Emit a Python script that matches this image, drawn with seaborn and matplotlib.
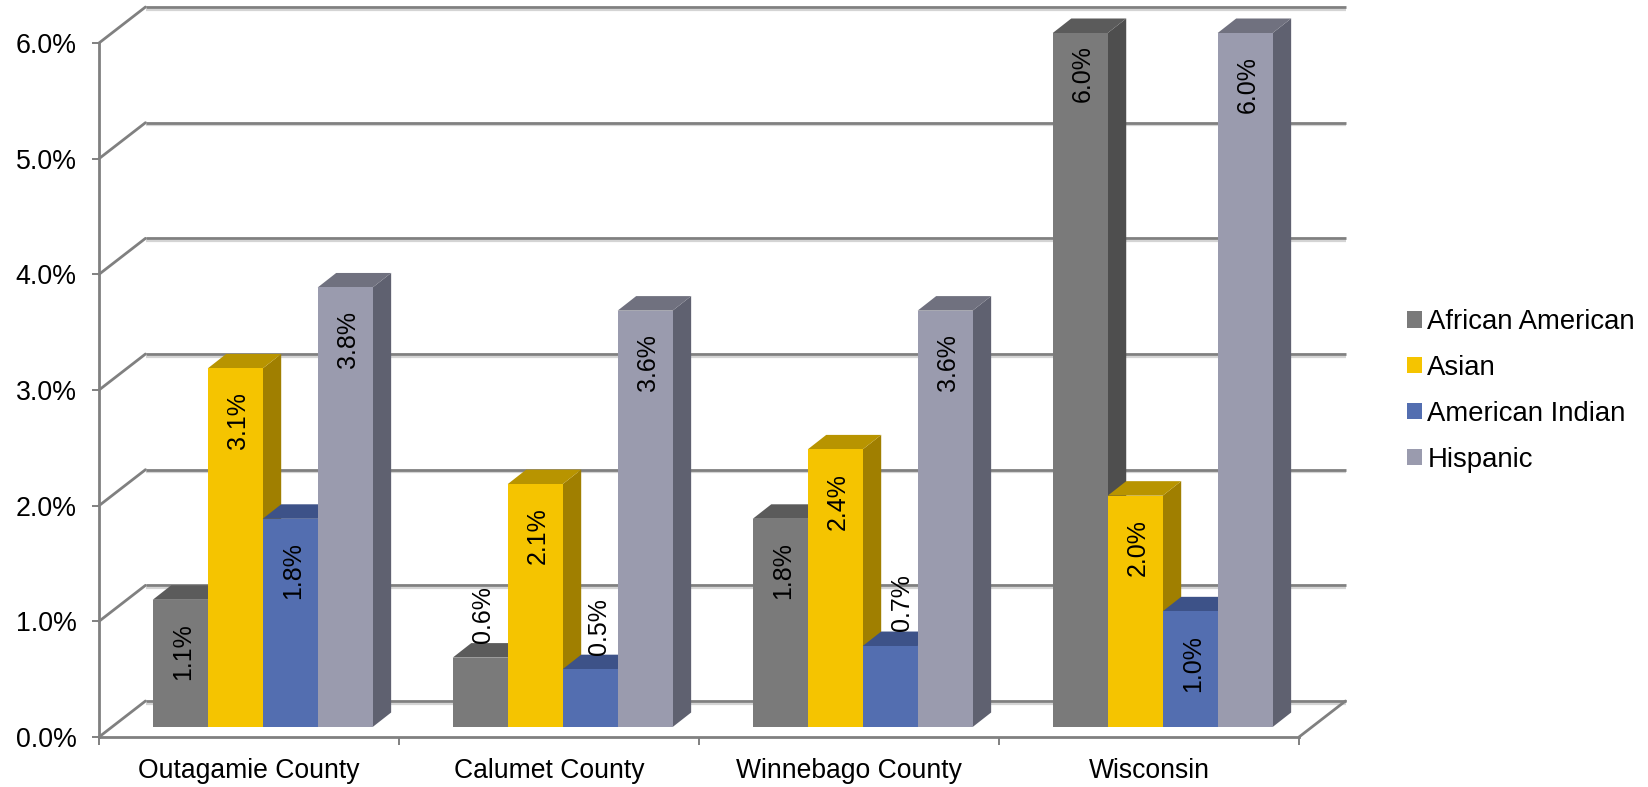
import matplotlib
matplotlib.use("Agg")
import numpy as np
import pandas as pd
import matplotlib.pyplot as plt
from matplotlib.patches import Patch, Polygon
from matplotlib.ticker import FixedLocator
from matplotlib.transforms import Affine2D
import seaborn as sns

# values
counties = ["Outagamie County", "Calumet County", "Winnebago County", "Wisconsin"]
groups = ["African American", "Asian", "American Indian", "Hispanic"]
african_american = [1.1, 0.6, 1.8, 6.0]
asian = [3.1, 2.1, 2.4, 2.0]
american_indian = [1.8, 0.5, 0.7, 1.0]
hispanic = [3.8, 3.6, 3.6, 6.0]
y_ticks = [0, 1, 2, 3, 4, 5, 6]

# face, top, side
front_colors = ["#7a7a7a", "#f5c400", "#536eb0", "#9a9bae"]
top_colors = ["#5b5b5b", "#b89400", "#3d5288", "#70717f"]
side_colors = ["#4e4e4e", "#a07f00", "#3a4d80", "#5f6170"]
line_color = "#808080"

df = pd.DataFrame({"county": counties, "African American": african_american, "Asian": asian,
                   "American Indian": american_indian, "Hispanic": hispanic})
df = df.melt(id_vars="county", var_name="group", value_name="pct")

sns.set_theme(style="white")
plt.rcParams["font.family"] = ["Liberation Sans", "DejaVu Sans"]

W, H = 1648, 787
fig = plt.figure(figsize=(W / 100, H / 100), dpi=100)
ax = fig.add_axes([99 / W, 50 / H, 1200 / W, 694 / H])

sns.barplot(data=df, x="county", y="pct", hue="group", order=counties, hue_order=groups,
            palette=front_colors, saturation=1, width=0.733, gap=0, errorbar=None,
            legend=False, ax=ax)
ax.set_xlim(-0.5, 3.5)
ax.set_ylim(0, 6)
ax.set_xlabel("")
ax.set_ylabel("")

# pixel shifts for the fake 3d look
back = ax.transData + Affine2D().translate(46.5, 36)
plane = ax.transData + Affine2D().translate(13.7, 10)
depth_x, depth_y = 18.5, 14.5

# back wall, side wall and floor
ax.hlines(y_ticks, -0.5, 3.5, color="#d4d4d4", lw=1.6, zorder=1, clip_on=False,
          transform=back + Affine2D().translate(0, -2.5))
ax.hlines(y_ticks, -0.5, 3.5, color=line_color, lw=2.0, zorder=1.1, clip_on=False, transform=back)
for t in y_ticks:
    p0 = ax.transData.transform((-0.5, t))
    ax.plot([p0[0], p0[0] + 46.5], [p0[1], p0[1] + 36], color=line_color, lw=2.0,
            transform=None, clip_on=False, zorder=1.2)
p0 = ax.transData.transform((3.5, 0))
ax.plot([p0[0], p0[0] + 46.5], [p0[1], p0[1] + 36], color=line_color, lw=2.0,
        transform=None, clip_on=False, zorder=1.2)

# bars go left to right so each one hides the side of the one before
bars = []
for i, cont in enumerate(ax.containers):
    for b in cont:
        bars.append((b.get_x(), b, i))
bars.sort(key=lambda r: r[0])

# sideways nudge in pixels for the labels that sit above their bar
small_label_dx = {0.6: 3, 0.5: 8.5, 0.7: 11.5}

for n, (x0, b, i) in enumerate(bars):
    h = b.get_height()
    x1 = x0 + b.get_width()
    z = 3 + n * 0.01
    (lx, ty), (rx, _) = plane.transform([(x0, h), (x1, h)])
    _, by = plane.transform((x0, 0))
    top = [(lx, ty), (rx, ty), (rx + depth_x, ty + depth_y), (lx + depth_x, ty + depth_y)]
    side = [(rx, by), (rx, ty), (rx + depth_x, ty + depth_y), (rx + depth_x, by + depth_y)]
    ax.add_patch(Polygon(side, closed=True, fc=side_colors[i], ec="none", transform=None,
                         clip_on=False, zorder=z))
    ax.add_patch(Polygon(top, closed=True, fc=top_colors[i], ec="none", transform=None,
                         clip_on=False, zorder=z + 0.001))
    b.set_transform(plane)
    b.set_clip_on(False)
    b.set_edgecolor("none")
    b.set_zorder(z + 0.002)

    # small bars have the label above, the rest inside
    txt = "%.1f%%" % h
    if h < 1:
        dx = small_label_dx[round(h, 1)]
        dy = 43
    elif h == 6 and i == 0:
        dx, dy = 3, -41
    else:
        dx, dy = 3, -52
    ax.annotate(txt, xy=(lx + (rx - lx) / 2 + dx, ty + dy), xycoords="figure pixels",
                rotation=90, ha="center", va="center", fontsize=18, color="black", zorder=6,
                annotation_clip=False)

# axes
sns.despine(ax=ax)
for side_name in ["left", "bottom"]:
    ax.spines[side_name].set_color(line_color)
    ax.spines[side_name].set_linewidth(2.0)
ax.set_yticks(y_ticks)
ax.set_yticklabels(["%.1f%%" % t for t in y_ticks])
ax.xaxis.set_minor_locator(FixedLocator(np.arange(-0.5, 4, 1)))
ax.tick_params(axis="x", which="major", length=0, pad=15, labelsize=19.1, labelcolor="black")
ax.tick_params(axis="x", which="minor", length=5.5, width=1.4, color=line_color, bottom=True)
ax.tick_params(axis="y", length=5, width=1.4, color=line_color, pad=11, labelsize=19.3,
               labelcolor="black", left=True)

handles = [Patch(fc=c, ec="none", label=g) for c, g in zip(front_colors, groups)]
fig.legend(handles=handles, loc="center left", bbox_to_anchor=(1407 / W, 1 - 391 / H),
           frameon=False, fontsize=19.8, handlelength=0.53, handleheight=0.53,
           handletextpad=0.21, labelspacing=0.72, borderpad=0, borderaxespad=0, labelcolor="black")

fig.savefig("out.png", dpi=100)
